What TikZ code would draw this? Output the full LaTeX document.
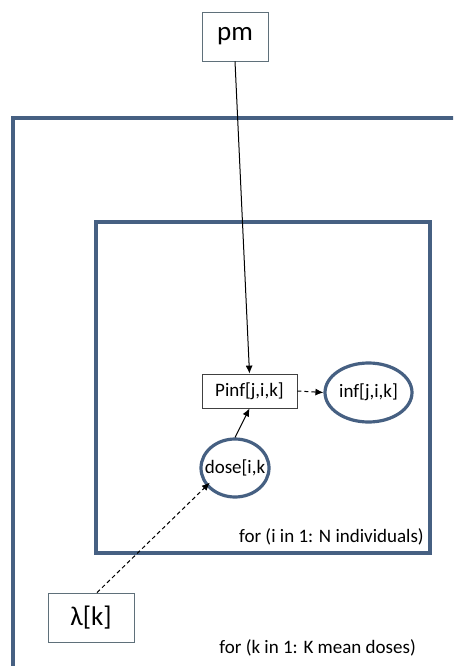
\documentclass[tikz,border=0pt]{standalone}
\usepackage{fontspec}
\setmainfont{Carlito}
\usetikzlibrary{arrows.meta,shapes.geometric}
\definecolor{plate}{RGB}{70,96,130}
\definecolor{thinbox}{RGB}{95,112,122}
\begin{document}
\begin{tikzpicture}[x=1pt,y=-1pt,
  platebox/.style={draw=plate,line width=3.5pt},
  varbox/.style={draw=thinbox,line width=0.8pt,rectangle,inner sep=0pt,fill=white},
  stoch/.style={draw=plate,line width=3.2pt,ellipse,inner sep=0pt,fill=white},
  arr/.style={-{Latex[length=8pt,width=7pt]},line width=1pt},
  darr/.style={arr,dash pattern=on 4pt off 3pt},
  lbl/.style={font=\fontsize{19}{22}\selectfont},
  big/.style={font=\fontsize{27}{30}\selectfont}]
\useasboundingbox (0,0) rectangle (453,666);
\fill[white] (0,0) rectangle (453,666);
\clip (0,0) rectangle (453,666);
% plates
\draw[platebox] (13,118) rectangle (480,700);
\draw[platebox] (96,222) rectangle (430,553);
% nodes
\node[varbox,big,minimum width=66pt,minimum height=49pt] (pm) at (235,36.5) {pm};
\node[varbox,lbl,draw=black!75,minimum width=95pt,minimum height=34pt] (pinf) at (249.5,391) {Pinf[j,i,k]};
\node[stoch,lbl,minimum width=87pt,minimum height=59pt] (inf) at (368.5,392.5) {\makebox[0pt]{inf[j,i,k]}};
\node[stoch,lbl,minimum width=68pt,minimum height=58pt] (dose) at (235,468) {\makebox[0pt]{dose[i,k}};
\node[varbox,big,minimum width=86pt,minimum height=49pt] (lam) at (91,617.5) {λ[k]};
% labels
\node[lbl,anchor=east,inner sep=0pt] (ilab) at (424,537) {for (i in 1: N individuals)};
\node[lbl,anchor=east,inner sep=0pt] (klab) at (416,648) {for (k in 1: K mean doses)};
% connectors
\draw[arr] (pm.south) -- (pinf.north);
\draw[arr] (dose.north) -- (pinf.south);
\draw[darr] (pinf.east) -- (inf.west);
\draw[darr] ([xshift=6pt]lam.north) -- ([yshift=7pt]dose.south west);
\end{tikzpicture}
\end{document}
